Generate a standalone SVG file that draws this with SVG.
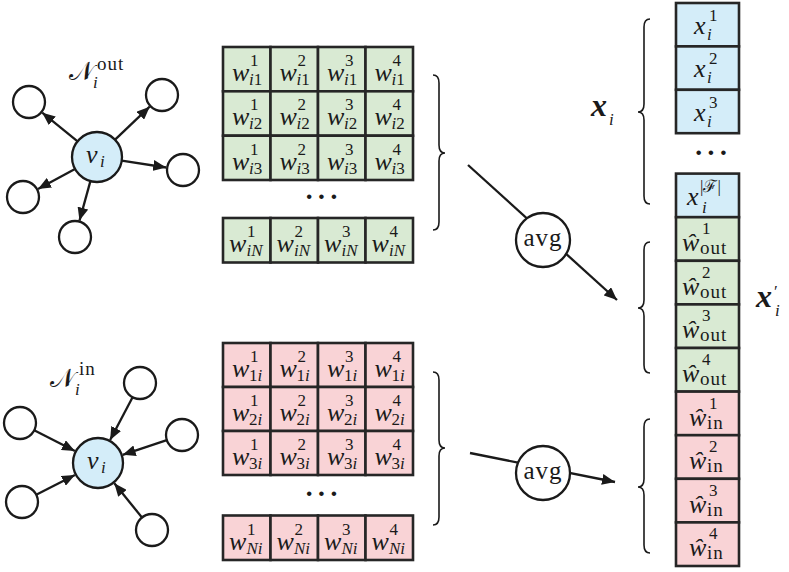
<svg xmlns="http://www.w3.org/2000/svg" width="789" height="572" viewBox="0 0 789 572">
<style>
.bg{fill:#ffffff}
.nd{fill:#ffffff;stroke:#1a1a1a;stroke-width:2.3}
.vi{fill:#d4edf9;stroke:#1a1a1a;stroke-width:2.3}
.cg{fill:#d9ead3;stroke:#262626;stroke-width:2.6}
.cr{fill:#f9d3d6;stroke:#262626;stroke-width:2.6}
.cb{fill:#d4edf9;stroke:#262626;stroke-width:2.6}
.ln{stroke:#1a1a1a;stroke-width:2.3;fill:none;marker-end:url(#ah)}
.br{fill:none;stroke:#1a1a1a;stroke-width:1.6}
.m{font-family:"Liberation Serif",serif;font-style:italic;font-size:26px;fill:#1a1a1a}
.s{font-family:"Liberation Serif",serif;font-style:normal;font-weight:normal;font-size:17px}
.t{font-family:"Liberation Serif",serif;font-style:normal;font-size:19px;letter-spacing:1px}
.it{font-style:italic}
.cal{font-family:"Liberation Serif","DejaVu Serif",serif;font-style:normal;font-size:26px;fill:#1a1a1a}
.bx{font-family:"Liberation Serif",serif;font-style:italic;font-weight:bold;font-size:32px;fill:#1a1a1a}
.avg{font-family:"Liberation Serif",serif;font-size:25px;letter-spacing:1px;fill:#1a1a1a;text-anchor:middle}
.dots{font-family:"Liberation Serif",serif;font-size:28px;font-weight:bold;letter-spacing:3px;fill:#1a1a1a}
</style>
<defs>
<marker id="ah" markerUnits="userSpaceOnUse" markerWidth="14" markerHeight="11" refX="13" refY="5.5" orient="auto">
<path d="M0,0 L13,5.5 L0,11 Z" fill="#1a1a1a"/>
</marker>
</defs>
<rect class="bg" x="0" y="0" width="789" height="572"/>

<g id="connectors">
<line class="ln" x1="77.6" y1="141.3" x2="42.2" y2="112.7"/>
<line class="ln" x1="115.1" y1="139.7" x2="149.7" y2="106.7"/>
<line class="ln" x1="121.7" y1="160.7" x2="166.2" y2="167.5"/>
<line class="ln" x1="75" y1="168.9" x2="38" y2="188.9"/>
<line class="ln" x1="90.4" y1="181.1" x2="79.5" y2="220.6"/>
<line class="ln" x1="34.2" y1="430.3" x2="74.9" y2="451.1"/>
<line class="ln" x1="132.6" y1="397.2" x2="110.1" y2="440"/>
<line class="ln" x1="166.8" y1="440.1" x2="122.7" y2="454.8"/>
<line class="ln" x1="36.2" y1="494.7" x2="74.9" y2="474.9"/>
<line class="ln" x1="142" y1="517.5" x2="114.3" y2="483.3"/>
<line class="ln" x1="468" y1="165" x2="617" y2="300"/>
<line class="ln" x1="470" y1="453" x2="615" y2="482"/>
</g>

<g id="graph-out">
<circle class="nd" cx="29" cy="102" r="16"/>
<circle class="nd" cx="162" cy="95" r="16"/>
<circle class="nd" cx="183" cy="170" r="16"/>
<circle class="nd" cx="23" cy="197" r="16"/>
<circle class="nd" cx="75" cy="237" r="16"/>
<g id="vi-out">
<circle class="vi" cx="97" cy="157" r="25"/>
<text class="m" x="86" y="163">v<tspan class="s it" x="100" y="167">i</tspan></text>
</g>
<text class="cal" x="69" y="80">𝒩<tspan class="s it" x="93" y="88">i</tspan><tspan class="t" x="97" y="70">out</tspan></text>
</g>

<g id="graph-in">
<circle class="nd" cx="20" cy="423" r="16"/>
<circle class="nd" cx="140" cy="383" r="16"/>
<circle class="nd" cx="182" cy="435" r="16"/>
<circle class="nd" cx="22" cy="502" r="16"/>
<circle class="nd" cx="152" cy="530" r="16"/>
<g id="vi-in">
<circle class="vi" cx="98" cy="463" r="25"/>
<text class="m" x="87" y="469">v<tspan class="s it" x="101" y="473">i</tspan></text>
</g>
<text class="cal" x="50" y="387">𝒩<tspan class="s it" x="75" y="395">i</tspan><tspan class="t" x="79" y="375">in</tspan></text>
</g>

<g id="matrix-out">
<rect class="cg" x="223" y="47" width="47.5" height="44.3"/><rect class="cg" x="270.5" y="47" width="47.5" height="44.3"/><rect class="cg" x="318" y="47" width="47.5" height="44.3"/><rect class="cg" x="365.5" y="47" width="47.5" height="44.3"/>
<rect class="cg" x="223" y="91.3" width="47.5" height="44.4"/><rect class="cg" x="270.5" y="91.3" width="47.5" height="44.4"/><rect class="cg" x="318" y="91.3" width="47.5" height="44.4"/><rect class="cg" x="365.5" y="91.3" width="47.5" height="44.4"/>
<rect class="cg" x="223" y="135.7" width="47.5" height="44.3"/><rect class="cg" x="270.5" y="135.7" width="47.5" height="44.3"/><rect class="cg" x="318" y="135.7" width="47.5" height="44.3"/><rect class="cg" x="365.5" y="135.7" width="47.5" height="44.3"/>
<rect class="cg" x="223" y="218" width="47.5" height="44.5"/><rect class="cg" x="270.5" y="218" width="47.5" height="44.5"/><rect class="cg" x="318" y="218" width="47.5" height="44.5"/><rect class="cg" x="365.5" y="218" width="47.5" height="44.5"/>

<text class="m" x="232" y="81">w<tspan class="s" x="250" y="66">1</tspan><tspan class="s" x="249" y="85"><tspan class="it">i</tspan>1</tspan></text>
<text class="m" x="279.5" y="81">w<tspan class="s" x="297.5" y="66">2</tspan><tspan class="s" x="296.5" y="85"><tspan class="it">i</tspan>1</tspan></text>
<text class="m" x="327" y="81">w<tspan class="s" x="345" y="66">3</tspan><tspan class="s" x="344" y="85"><tspan class="it">i</tspan>1</tspan></text>
<text class="m" x="374.5" y="81">w<tspan class="s" x="392.5" y="66">4</tspan><tspan class="s" x="391.5" y="85"><tspan class="it">i</tspan>1</tspan></text>

<text class="m" x="232" y="125.3">w<tspan class="s" x="250" y="110.3">1</tspan><tspan class="s" x="249" y="129.3"><tspan class="it">i</tspan>2</tspan></text>
<text class="m" x="279.5" y="125.3">w<tspan class="s" x="297.5" y="110.3">2</tspan><tspan class="s" x="296.5" y="129.3"><tspan class="it">i</tspan>2</tspan></text>
<text class="m" x="327" y="125.3">w<tspan class="s" x="345" y="110.3">3</tspan><tspan class="s" x="344" y="129.3"><tspan class="it">i</tspan>2</tspan></text>
<text class="m" x="374.5" y="125.3">w<tspan class="s" x="392.5" y="110.3">4</tspan><tspan class="s" x="391.5" y="129.3"><tspan class="it">i</tspan>2</tspan></text>

<text class="m" x="232" y="169.7">w<tspan class="s" x="250" y="154.7">1</tspan><tspan class="s" x="249" y="173.7"><tspan class="it">i</tspan>3</tspan></text>
<text class="m" x="279.5" y="169.7">w<tspan class="s" x="297.5" y="154.7">2</tspan><tspan class="s" x="296.5" y="173.7"><tspan class="it">i</tspan>3</tspan></text>
<text class="m" x="327" y="169.7">w<tspan class="s" x="345" y="154.7">3</tspan><tspan class="s" x="344" y="173.7"><tspan class="it">i</tspan>3</tspan></text>
<text class="m" x="374.5" y="169.7">w<tspan class="s" x="392.5" y="154.7">4</tspan><tspan class="s" x="391.5" y="173.7"><tspan class="it">i</tspan>3</tspan></text>

<text class="dots" x="304.5" y="206">···</text>

<text class="m" x="229" y="252">w<tspan class="s" x="247" y="237">1</tspan><tspan class="s it" x="246.5" y="256">iN</tspan></text>
<text class="m" x="276.5" y="252">w<tspan class="s" x="294.5" y="237">2</tspan><tspan class="s it" x="294" y="256">iN</tspan></text>
<text class="m" x="324" y="252">w<tspan class="s" x="342" y="237">3</tspan><tspan class="s it" x="341.5" y="256">iN</tspan></text>
<text class="m" x="371.5" y="252">w<tspan class="s" x="389.5" y="237">4</tspan><tspan class="s it" x="389" y="256">iN</tspan></text>
</g>

<g id="matrix-in">
<rect class="cr" x="223" y="343" width="47.5" height="44"/><rect class="cr" x="270.5" y="343" width="47.5" height="44"/><rect class="cr" x="318" y="343" width="47.5" height="44"/><rect class="cr" x="365.5" y="343" width="47.5" height="44"/>
<rect class="cr" x="223" y="387" width="47.5" height="44"/><rect class="cr" x="270.5" y="387" width="47.5" height="44"/><rect class="cr" x="318" y="387" width="47.5" height="44"/><rect class="cr" x="365.5" y="387" width="47.5" height="44"/>
<rect class="cr" x="223" y="431" width="47.5" height="44"/><rect class="cr" x="270.5" y="431" width="47.5" height="44"/><rect class="cr" x="318" y="431" width="47.5" height="44"/><rect class="cr" x="365.5" y="431" width="47.5" height="44"/>
<rect class="cr" x="223" y="515.5" width="47.5" height="44.5"/><rect class="cr" x="270.5" y="515.5" width="47.5" height="44.5"/><rect class="cr" x="318" y="515.5" width="47.5" height="44.5"/><rect class="cr" x="365.5" y="515.5" width="47.5" height="44.5"/>

<text class="m" x="232" y="377">w<tspan class="s" x="250" y="362">1</tspan><tspan class="s" x="249" y="381">1<tspan class="it">i</tspan></tspan></text>
<text class="m" x="279.5" y="377">w<tspan class="s" x="297.5" y="362">2</tspan><tspan class="s" x="296.5" y="381">1<tspan class="it">i</tspan></tspan></text>
<text class="m" x="327" y="377">w<tspan class="s" x="345" y="362">3</tspan><tspan class="s" x="344" y="381">1<tspan class="it">i</tspan></tspan></text>
<text class="m" x="374.5" y="377">w<tspan class="s" x="392.5" y="362">4</tspan><tspan class="s" x="391.5" y="381">1<tspan class="it">i</tspan></tspan></text>

<text class="m" x="232" y="421">w<tspan class="s" x="250" y="406">1</tspan><tspan class="s" x="249" y="425">2<tspan class="it">i</tspan></tspan></text>
<text class="m" x="279.5" y="421">w<tspan class="s" x="297.5" y="406">2</tspan><tspan class="s" x="296.5" y="425">2<tspan class="it">i</tspan></tspan></text>
<text class="m" x="327" y="421">w<tspan class="s" x="345" y="406">3</tspan><tspan class="s" x="344" y="425">2<tspan class="it">i</tspan></tspan></text>
<text class="m" x="374.5" y="421">w<tspan class="s" x="392.5" y="406">4</tspan><tspan class="s" x="391.5" y="425">2<tspan class="it">i</tspan></tspan></text>

<text class="m" x="232" y="465">w<tspan class="s" x="250" y="450">1</tspan><tspan class="s" x="249" y="469">3<tspan class="it">i</tspan></tspan></text>
<text class="m" x="279.5" y="465">w<tspan class="s" x="297.5" y="450">2</tspan><tspan class="s" x="296.5" y="469">3<tspan class="it">i</tspan></tspan></text>
<text class="m" x="327" y="465">w<tspan class="s" x="345" y="450">3</tspan><tspan class="s" x="344" y="469">3<tspan class="it">i</tspan></tspan></text>
<text class="m" x="374.5" y="465">w<tspan class="s" x="392.5" y="450">4</tspan><tspan class="s" x="391.5" y="469">3<tspan class="it">i</tspan></tspan></text>

<text class="dots" x="304.5" y="503">···</text>

<text class="m" x="229" y="549.5">w<tspan class="s" x="247" y="534.5">1</tspan><tspan class="s it" x="246.5" y="553.5">Ni</tspan></text>
<text class="m" x="276.5" y="549.5">w<tspan class="s" x="294.5" y="534.5">2</tspan><tspan class="s it" x="294" y="553.5">Ni</tspan></text>
<text class="m" x="324" y="549.5">w<tspan class="s" x="342" y="534.5">3</tspan><tspan class="s it" x="341.5" y="553.5">Ni</tspan></text>
<text class="m" x="371.5" y="549.5">w<tspan class="s" x="389.5" y="534.5">4</tspan><tspan class="s it" x="389" y="553.5">Ni</tspan></text>
</g>

<g id="braces">
<path class="br" d="M433,75 Q439,75 439,83 L439,145 Q439,153 445,153 Q439,153 439,161 L439,222 Q439,230 433,230"/>
<path class="br" d="M433,372 Q439,372 439,380 L439,440 Q439,448 445,448 Q439,448 439,456 L439,517 Q439,525 433,525"/>
<path class="br" d="M650,19 Q644,19 644,27 L644,104 Q644,112 638,112 Q644,112 644,120 L644,196 Q644,204 650,204"/>
<path class="br" d="M650,242 Q644,242 644,250 L644,300 Q644,308 638,308 Q644,308 644,316 L644,365 Q644,373 650,373"/>
<path class="br" d="M650,419 Q644,419 644,427 L644,479 Q644,487 638,487 Q644,487 644,495 L644,545 Q644,553 650,553"/>
</g>

<g id="avg-out">
<circle class="nd" cx="543" cy="240" r="27"/>
<text class="avg" x="543" y="246">avg</text>
</g>
<g id="avg-in">
<circle class="nd" cx="543" cy="473" r="27"/>
<text class="avg" x="543" y="479">avg</text>
</g>

<g id="feature-vector">
<rect class="cb" x="676" y="3" width="63" height="43.4"/>
<rect class="cb" x="676" y="46.4" width="63" height="43.4"/>
<rect class="cb" x="676" y="89.8" width="63" height="43.4"/>
<rect class="cb" x="676" y="173.6" width="63" height="43.6"/>
<rect class="cg" x="676" y="217.2" width="63" height="43.6"/>
<rect class="cg" x="676" y="260.8" width="63" height="43.6"/>
<rect class="cg" x="676" y="304.4" width="63" height="43.6"/>
<rect class="cg" x="676" y="348" width="63" height="43.6"/>
<rect class="cr" x="676" y="391.6" width="63" height="43.6"/>
<rect class="cr" x="676" y="435.2" width="63" height="43.6"/>
<rect class="cr" x="676" y="478.8" width="63" height="43.6"/>
<rect class="cr" x="676" y="522.4" width="63" height="43.6"/>

<text class="m" x="694" y="34">x<tspan class="s" x="709" y="21">1</tspan><tspan class="s it" x="707" y="40">i</tspan></text>
<text class="m" x="694" y="77.4">x<tspan class="s" x="709" y="64.4">2</tspan><tspan class="s it" x="707" y="83.4">i</tspan></text>
<text class="m" x="694" y="120.8">x<tspan class="s" x="709" y="107.8">3</tspan><tspan class="s it" x="707" y="126.8">i</tspan></text>
<text class="dots" x="694" y="162">···</text>
<text class="m" x="687" y="205">x<tspan class="s" x="700" y="192" font-size="18">|<tspan font-family="Liberation Serif, DejaVu Serif, serif">ℱ</tspan>|</tspan><tspan class="s it" x="702" y="213">i</tspan></text>

<text class="m" x="682" y="251.2">ŵ<tspan class="s" x="702" y="234.2">1</tspan><tspan class="t" x="700" y="254.2">out</tspan></text>
<text class="m" x="682" y="294.8">ŵ<tspan class="s" x="702" y="277.8">2</tspan><tspan class="t" x="700" y="297.8">out</tspan></text>
<text class="m" x="682" y="338.4">ŵ<tspan class="s" x="702" y="321.4">3</tspan><tspan class="t" x="700" y="341.4">out</tspan></text>
<text class="m" x="682" y="382">ŵ<tspan class="s" x="702" y="365">4</tspan><tspan class="t" x="700" y="385">out</tspan></text>

<text class="m" x="689" y="425.6">ŵ<tspan class="s" x="709" y="408.6">1</tspan><tspan class="t" x="707" y="428.6">in</tspan></text>
<text class="m" x="689" y="469.2">ŵ<tspan class="s" x="709" y="452.2">2</tspan><tspan class="t" x="707" y="472.2">in</tspan></text>
<text class="m" x="689" y="512.8">ŵ<tspan class="s" x="709" y="495.8">3</tspan><tspan class="t" x="707" y="515.8">in</tspan></text>
<text class="m" x="689" y="556.4">ŵ<tspan class="s" x="709" y="539.4">4</tspan><tspan class="t" x="707" y="559.4">in</tspan></text>

<text class="bx" x="591" y="116">x<tspan class="s it" x="609" y="125" font-size="19">i</tspan></text>
<text class="bx" x="756" y="307">x<tspan class="s" x="774" y="297" font-size="22">′</tspan><tspan class="s it" x="775" y="316" font-size="19">i</tspan></text>
</g>
</svg>
